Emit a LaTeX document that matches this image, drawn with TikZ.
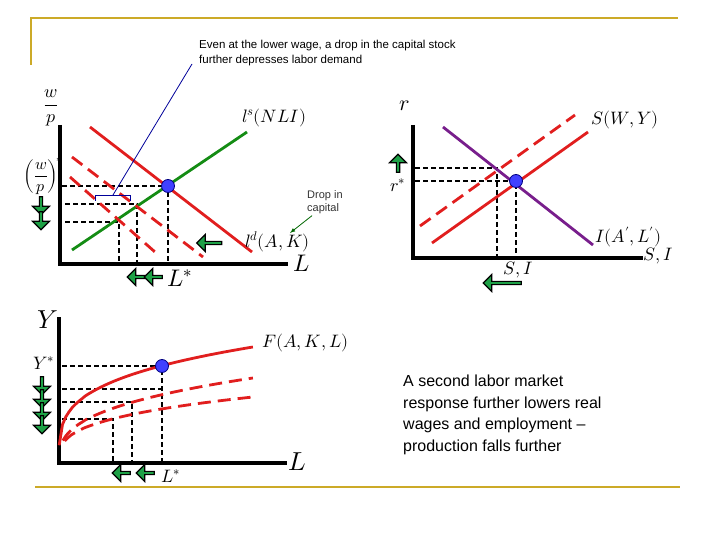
\documentclass[tikz,border=0pt]{standalone}
\usepackage{fontspec}
\setmainfont{Liberation Sans}
\usepackage{unicode-math}
\setmathfont{Latin Modern Math}
\usetikzlibrary{shapes.arrows}
\definecolor{gold}{RGB}{204,170,40}
\definecolor{curve}{RGB}{225,30,30}
\definecolor{gr}{RGB}{20,140,20}
\definecolor{ga}{RGB}{30,160,70}
\definecolor{pur}{RGB}{120,30,140}
\begin{document}
\begin{tikzpicture}[x=1pt,y=-1pt,
 axis/.style={line width=3.6pt},
 guide/.style={dash pattern=on 5pt off 3pt,line width=1.2pt},
 sol/.style={curve,line width=2.8pt},
 dsh/.style={curve,line width=2.8pt,dash pattern=on 13pt off 7pt},
 dot/.style={circle,fill=blue!75!white,draw=blue!50!black,thick,inner sep=0pt,minimum size=13pt},
 lab/.style={font=\fontsize{18}{18}\selectfont,inner sep=0pt},
 garr/.style={single arrow,fill=ga,draw=black,line width=1.2pt,inner sep=0pt,minimum height=18pt,minimum width=17pt,single arrow head extend=2.5pt,single arrow head indent=0pt},
 txt/.style={font=\fontsize{11}{13}\selectfont,align=left,inner sep=0pt,anchor=north west}]
\useasboundingbox (0,0) rectangle (720,540);
% frame
\draw[gold,line width=2pt] (30,18) -- (678,18);
\draw[gold,line width=2pt] (31,18) -- (31,65);
\draw[gold,line width=2pt] (35,487) -- (680,487);
% ===== labor market
\draw[guide] (62,186) -- (168,186) -- (168,263);
\draw[guide] (65,204) -- (137,204) -- (137,263);
\draw[guide] (65,222) -- (119,222) -- (119,263);
\draw[axis] (60,125) -- (60,264) -- (288,264);
\draw[gr,line width=2.8pt] (72,250) -- (247,132);
\draw[sol] (90,127) -- (252,252);
\draw[dsh] (72,157) -- (203,257);
\draw[dsh] (70,177) -- (155,252);
\node[dot] (e1) at (168,186) {};
\draw[blue!60!black,thick] (95,201) -- (95,195) -- (130,195) -- (130,201);
\coordinate (br) at (113,195);
\coordinate (tx) at (192,64);
\draw[blue!60!black,thick] (br) -- (tx);
\node[lab] (wp) at (51,108) {$\dfrac{w}{p}$};
\node[lab,font=\fontsize{16}{16}\selectfont] (wps) at (43,176) {$\left(\dfrac{w}{p}\right)^{\!*}$};
\node[lab,anchor=west] (ls) at (242,118) {$l^s(NLI)$};
\node[lab,anchor=west] (ld) at (245,242) {$l^d(A,K)$};
\node[lab,font=\fontsize{24}{24}\selectfont] (L1) at (302,263) {$L$};
\node[lab,font=\fontsize{24}{24}\selectfont] (L1s) at (180,278) {$L^*$};
\node[txt,font=\fontsize{11}{13}\selectfont,text=black!80] (drop) at (307,190) {Drop in\\capital};
\draw[-latex,green!40!black,thick] (drop.south west) ++(5,2) coordinate (d0) -- (290,233);
\node[garr,shape border rotate=270] (a1) at (41,205) {};
\node[garr,shape border rotate=270] (a2) at (41,220) {};
\node[garr,shape border rotate=180,minimum height=25pt] (a3) at (210,243) {};
\node[garr,shape border rotate=180] (a4) at (137,277) {};
\node[garr,shape border rotate=180] (a5) at (154,277) {};
\node[txt,font=\fontsize{11.5}{15}\selectfont] (top) at (199,40) {Even at the lower wage, a drop in the capital stock\\further depresses labor demand};
% ===== capital market
\draw[guide] (415,168) -- (497,168) -- (497,258);
\draw[guide] (415,181) -- (516,181) -- (516,258);
\draw[axis] (413,125) -- (413,258) -- (643,258);
\draw[pur,line width=2.8pt] (443,127) -- (593,245);
\draw[sol] (432,243) -- (588,132);
\draw[dsh] (420,226) -- (575,115);
\node[dot] (e2) at (516,181) {};
\node[lab,font=\fontsize{22}{22}\selectfont] (r) at (405,106) {$\boldsymbol{r}$};
\node[lab] (rs) at (398,185) {$r^*$};
\node[lab,anchor=west] (S) at (591,120) {$S(W,Y)$};
\node[lab,anchor=west] (I) at (595,237) {$I(A',L')$};
\node[lab,anchor=west] (SI) at (643,256) {$S,I$};
\node[lab] (SI2) at (518,270) {$S,I$};
\node[garr,shape border rotate=90] (a6) at (398,164) {};
\node[garr,shape border rotate=180,minimum height=38pt] (a7) at (503,283) {};
% ===== production
\draw[guide] (62,366) -- (162,366) -- (162,462);
\draw[guide] (62,389) -- (162,389);
\draw[guide] (62,402) -- (132,402) -- (132,462);
\draw[guide] (62,419) -- (113,419) -- (113,462);
\draw[axis] (59,317) -- (59,463) -- (287,463);
\draw[sol,domain=0.001:1,samples=60] plot ({59+194*\x},{462-115*(\x)^0.28});
\draw[dsh,domain=0.02:1,samples=60] plot ({59+194*\x},{462-84*(\x)^0.35});
\draw[dsh,domain=0.03:1,samples=60] plot ({59+194*\x},{462-65*(\x)^0.32});
\node[dot] (e3) at (162,366) {};
\node[lab,font=\fontsize{26}{26}\selectfont] (Y) at (48,320) {$Y$};
\node[lab] (Ys) at (44,363) {$Y^*$};
\node[lab,font=\fontsize{26}{26}\selectfont] (L3) at (297,462) {$L$};
\node[lab] (L3s) at (171,476) {$L^*$};
\node[lab,anchor=west] (F) at (262,343) {$F(A,K,L)$};
\node[garr,shape border rotate=270] (b1) at (42,385) {};
\node[garr,shape border rotate=270] (b2) at (42,398) {};
\node[garr,shape border rotate=270] (b3) at (42,411) {};
\node[garr,shape border rotate=270] (b4) at (42,424) {};
\node[garr,shape border rotate=180] (b5) at (122,473) {};
\node[garr,shape border rotate=180] (b6) at (146,473) {};
\node[txt,font=\fontsize{16}{21.6}\selectfont] (note) at (403,375) {A second labor market\\response further lowers real\\wages and employment --\\production falls further};
\end{tikzpicture}
\end{document}
